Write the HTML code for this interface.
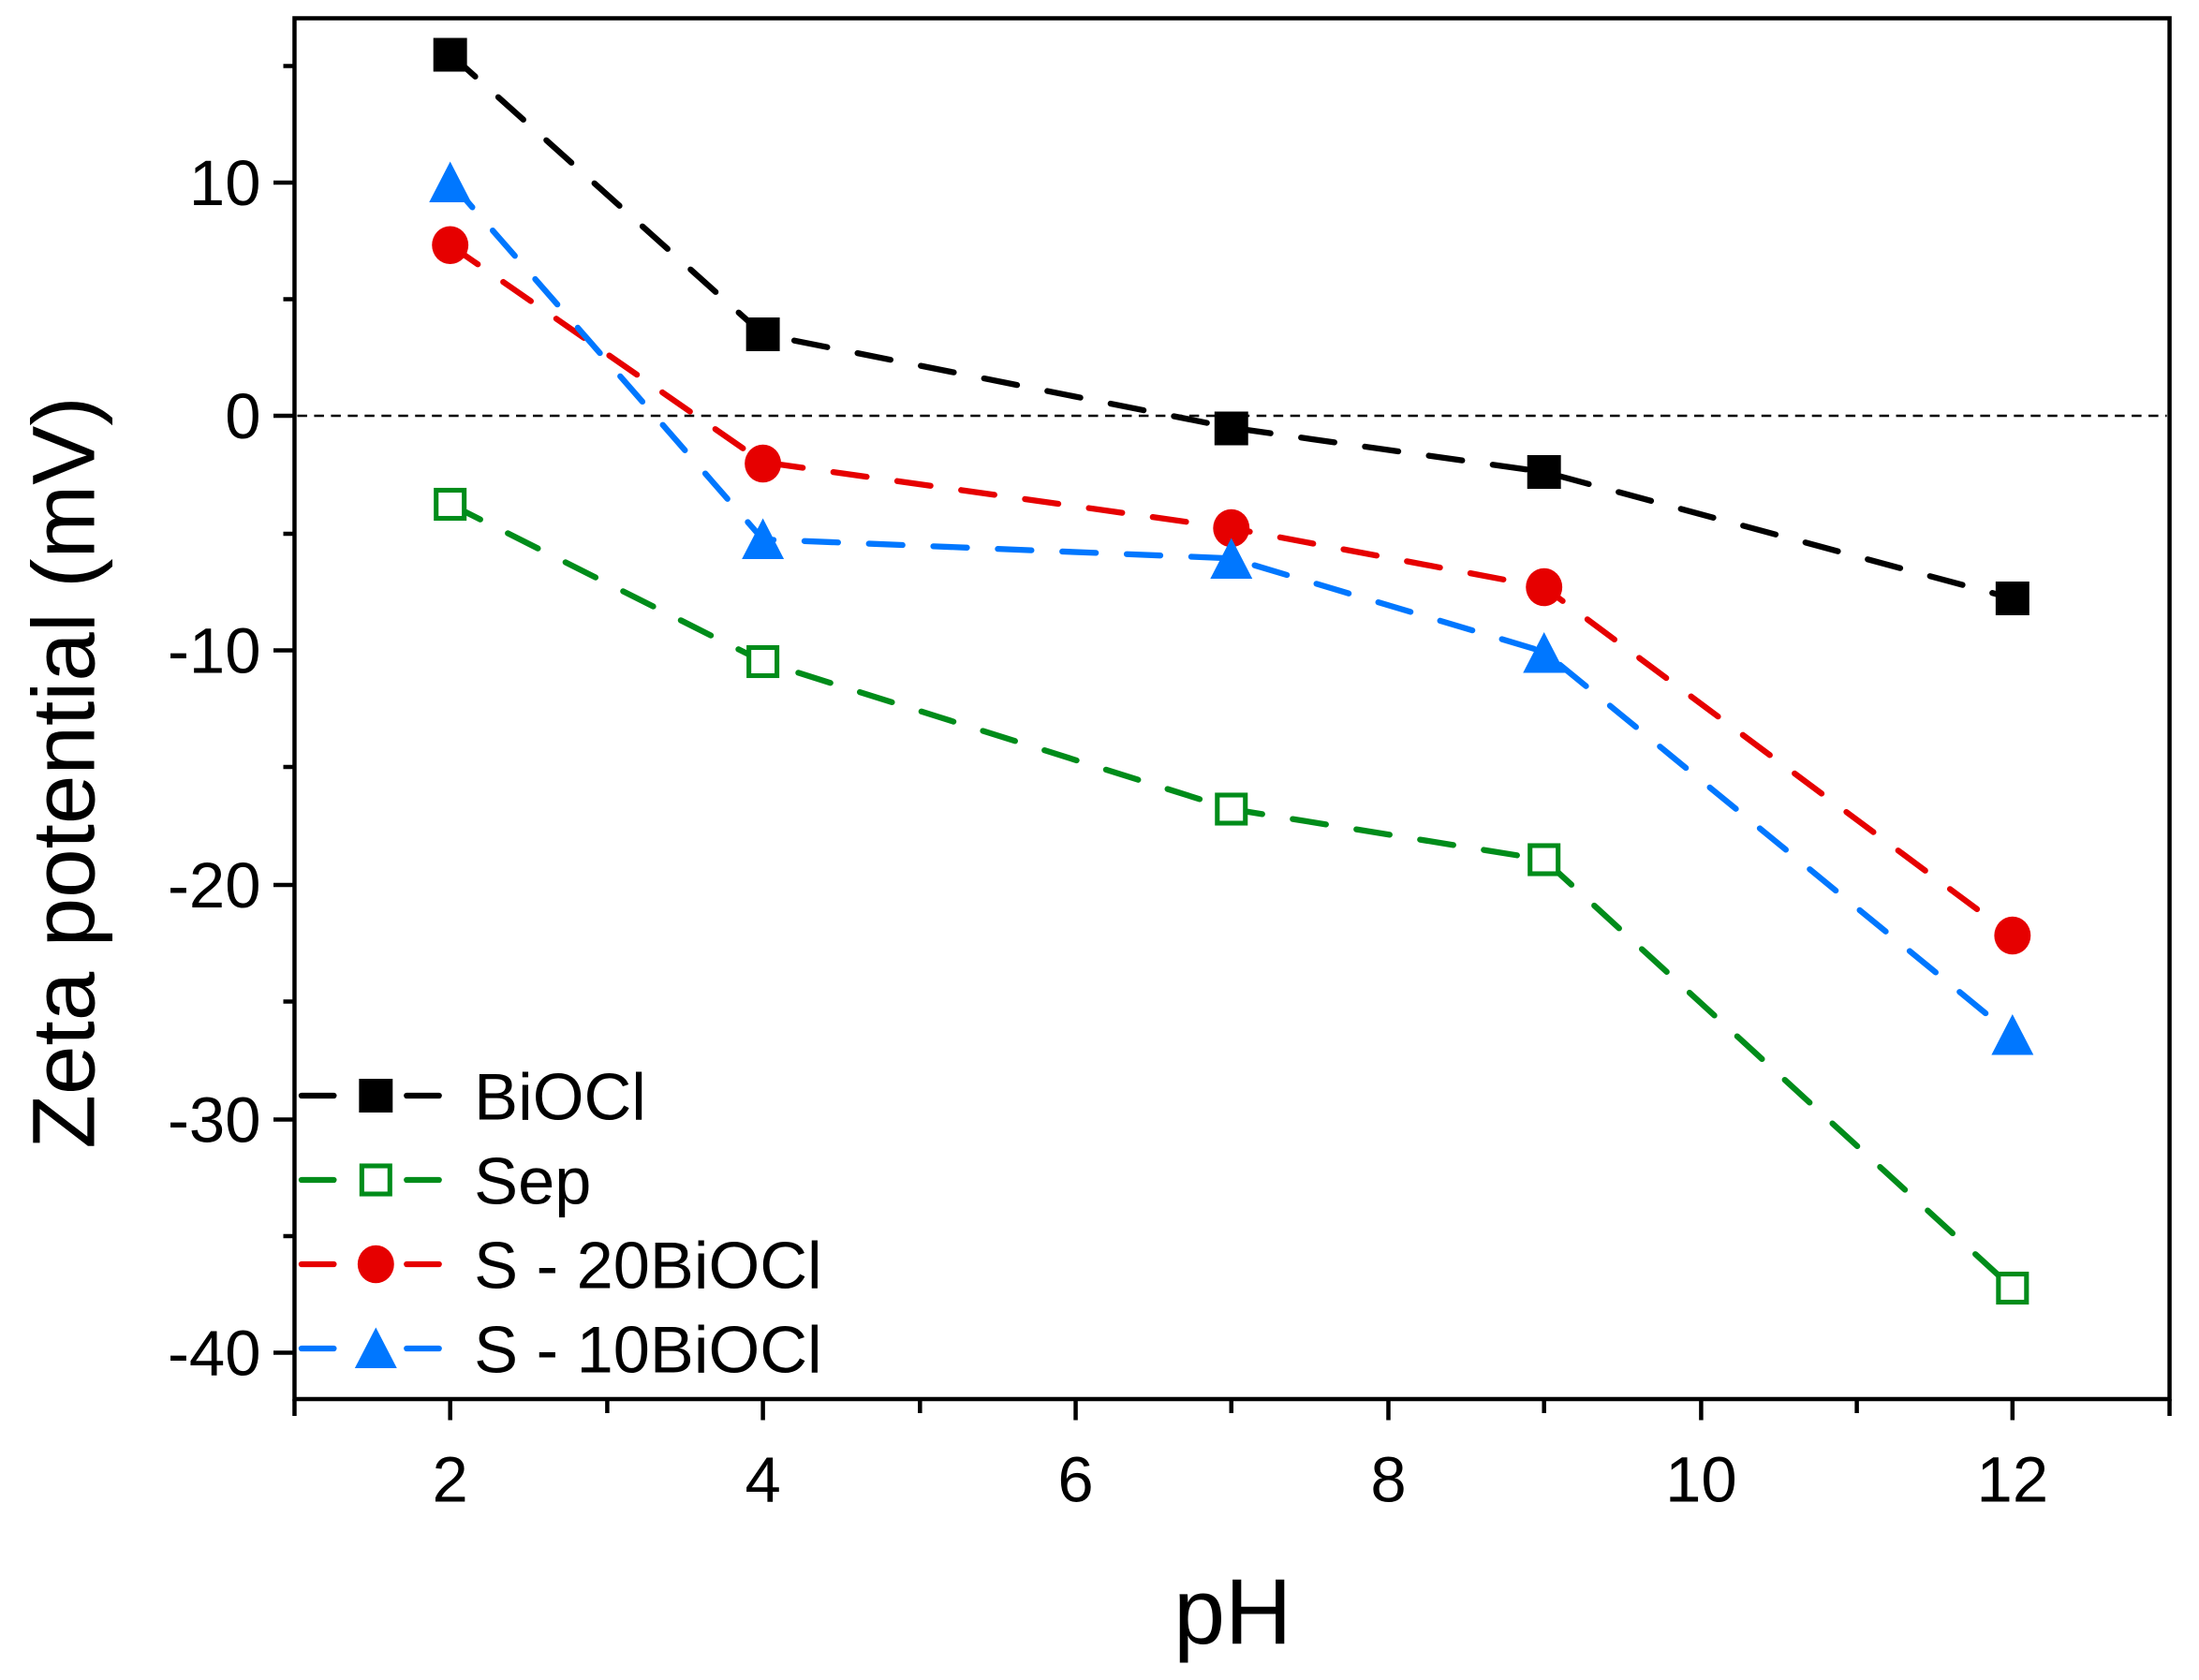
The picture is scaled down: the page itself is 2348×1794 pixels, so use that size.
<!DOCTYPE html>
<html><head><meta charset="utf-8"><style>html,body{margin:0;padding:0;background:#fff}svg{display:block}</style></head>
<body>
<svg width="2348" height="1794" viewBox="0 0 1568 1196" preserveAspectRatio="none" xmlns="http://www.w3.org/2000/svg" font-family="Liberation Sans, Arial, sans-serif">
<rect width="1568" height="1196" fill="#fff"/>
<line x1="212" y1="296" x2="1545" y2="296" stroke="#000" stroke-width="1.6" stroke-dasharray="7,5"/>
<g fill="none" stroke-width="4.2" stroke-linecap="round" stroke-dasharray="24,22">
<polyline stroke="#000" points="321,38.5 544,238 878,304.5 1101,336 1435,426"/>
<polyline stroke="#008c1a" points="321,359 544,471 878,576 1101,612 1435,917"/>
<polyline stroke="#e60000" points="321,174.5 544,329 878,376 1101,418 1435,666"/>
<polyline stroke="#0077ff" points="321,129.5 544,384 878,397.5 1101,464 1435,737"/>
</g>
<g fill="#000"><rect x="309" y="27" width="24" height="24"/><rect x="532" y="226" width="24" height="24"/><rect x="866" y="293" width="24" height="24"/><rect x="1089" y="324" width="24" height="24"/><rect x="1423" y="414" width="24" height="24"/></g>
<g fill="#fff" stroke="#008c1a" stroke-width="3.4"><rect x="311" y="349" width="20" height="20"/><rect x="534" y="461" width="20" height="20"/><rect x="868" y="566" width="20" height="20"/><rect x="1091" y="602" width="20" height="20"/><rect x="1425" y="907" width="20" height="20"/></g>
<g fill="#e60000"><ellipse cx="321" cy="174.5" rx="13" ry="13.5"/><ellipse cx="544" cy="330" rx="13" ry="13.5"/><ellipse cx="878" cy="376" rx="13" ry="13.5"/><ellipse cx="1101" cy="418" rx="13" ry="13.5"/><ellipse cx="1435" cy="666" rx="13" ry="13.5"/></g>
<g fill="#0077ff"><polygon points="321,115 306,144 336,144"/><polygon points="544,369 529,398 559,398"/><polygon points="878,383 863,412 893,412"/><polygon points="1101,450 1086,479 1116,479"/><polygon points="1435,722 1420,751 1450,751"/></g>
<rect x="210" y="13" width="1337" height="983" fill="none" stroke="#000" stroke-width="3"/>
<g stroke="#000" stroke-width="3">
<line x1="210" y1="130" x2="195" y2="130"/><line x1="210" y1="296" x2="195" y2="296"/><line x1="210" y1="463" x2="195" y2="463"/><line x1="210" y1="630" x2="195" y2="630"/><line x1="210" y1="797" x2="195" y2="797"/><line x1="210" y1="963" x2="195" y2="963"/>
<line x1="210" y1="47" x2="202" y2="47"/><line x1="210" y1="213" x2="202" y2="213"/><line x1="210" y1="380" x2="202" y2="380"/><line x1="210" y1="546" x2="202" y2="546"/><line x1="210" y1="713" x2="202" y2="713"/><line x1="210" y1="880" x2="202" y2="880"/>
<line x1="321" y1="996" x2="321" y2="1011"/><line x1="544" y1="996" x2="544" y2="1011"/><line x1="767" y1="996" x2="767" y2="1011"/><line x1="990" y1="996" x2="990" y2="1011"/><line x1="1213" y1="996" x2="1213" y2="1011"/><line x1="1435" y1="996" x2="1435" y2="1011"/>
<line x1="210" y1="996" x2="210" y2="1008"/><line x1="433" y1="996" x2="433" y2="1006"/><line x1="656" y1="996" x2="656" y2="1006"/><line x1="878" y1="996" x2="878" y2="1006"/><line x1="1101" y1="996" x2="1101" y2="1006"/><line x1="1324" y1="996" x2="1324" y2="1006"/><line x1="1547" y1="996" x2="1547" y2="1008"/>
</g>
<g font-size="46" text-anchor="end" fill="#000">
<text x="186" y="146">10</text><text x="186" y="312">0</text><text x="186" y="479">-10</text><text x="186" y="646">-20</text><text x="186" y="813">-30</text><text x="186" y="979">-40</text>
</g>
<g font-size="46" text-anchor="middle" fill="#000">
<text x="321" y="1069">2</text><text x="544" y="1069">4</text><text x="767" y="1069">6</text><text x="990" y="1069">8</text><text x="1213" y="1069">10</text><text x="1435" y="1069">12</text>
</g>
<text x="879" y="1170" font-size="66" text-anchor="middle">pH</text>
<text transform="translate(67,550) rotate(-90)" font-size="63" text-anchor="middle">Zeta potential (mV)</text>
<g stroke-width="4.2" stroke-linecap="round">
<line x1="215" y1="780" x2="238" y2="780" stroke="#000"/><line x1="290" y1="780" x2="313" y2="780" stroke="#000"/>
<line x1="215" y1="840" x2="238" y2="840" stroke="#008c1a"/><line x1="290" y1="840" x2="313" y2="840" stroke="#008c1a"/>
<line x1="215" y1="900" x2="238" y2="900" stroke="#e60000"/><line x1="290" y1="900" x2="313" y2="900" stroke="#e60000"/>
<line x1="215" y1="960" x2="238" y2="960" stroke="#0077ff"/><line x1="290" y1="960" x2="313" y2="960" stroke="#0077ff"/>
</g>
<rect x="256" y="768" width="24" height="24" fill="#000"/>
<rect x="258" y="830" width="20" height="20" fill="#fff" stroke="#008c1a" stroke-width="3.4"/>
<ellipse cx="268" cy="900" rx="13" ry="13.5" fill="#e60000"/>
<polygon points="268,945 253,974 283,974" fill="#0077ff"/>
<g font-size="47" fill="#000">
<text x="338" y="797">BiOCl</text><text x="338" y="857">Sep</text><text x="338" y="917">S - 20BiOCl</text><text x="338" y="977">S - 10BiOCl</text>
</g>
</svg>
</body></html>
